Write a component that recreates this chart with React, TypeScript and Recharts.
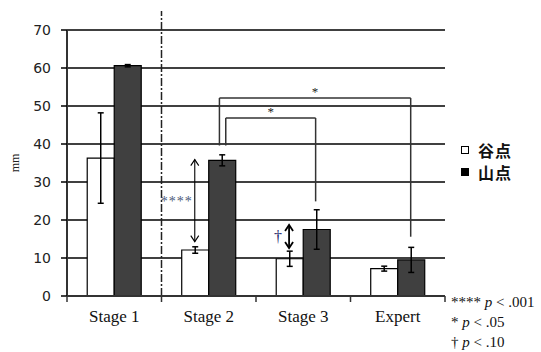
import React from 'react';
import {
  BarChart,
  Bar,
  XAxis,
  YAxis,
  CartesianGrid,
  ErrorBar,
  ReferenceLine
} from 'recharts';

const categories = ['Stage 1', 'Stage 2', 'Stage 3', 'Expert'];
const seriesNames = ['谷点', '山点'];
const valley = [36.3, 12.1, 9.8, 7.2];
const valleyErr = [11.9, 0.85, 2.0, 0.65];
const peak = [60.6, 35.7, 17.5, 9.5];
const peakErr = [0.3, 1.45, 5.2, 3.3];
const yTicks = [0, 10, 20, 30, 40, 50, 60, 70];

// significance brackets, x in category units on the hidden annotation axis
const brackets = [
  { from: 1.613, to: 3.637, top: 52.1, fromEnd: 39.6, toEnd: 15.6, mark: '*' },
  { from: 1.68, to: 2.631, top: 46.85, fromEnd: 39.6, toEnd: 24.9, mark: '*' }
];
const arrows = [
  { at: 1.352, top: 35.9, bottom: 14.3, mark: '****', color: '#4a5878', weight: 1.1, gap: 2, size: 14 },
  { at: 2.35, top: 18.7, bottom: 12.6, mark: '†', color: '#24246a', weight: 1.8, gap: 6, size: 16 }
];
const notes = [
  { mark: '****', p: '.001' },
  { mark: '*', p: '.05' },
  { mark: '†', p: '.10' }
];

const data = categories.map((name, i) => ({
  name,
  slot: i + 0.5,
  valley: valley[i],
  valleyErr: valleyErr[i],
  peak: peak[i],
  peakErr: peakErr[i]
}));

const W = 541;
const H = 352;

const CategoryTick = (props: any) => {
  const { x, y, payload, index } = props;
  const half = payload.offset || 47.25;
  return (
    <g>
      <line x1={x - half} x2={x - half} y1={y} y2={y + 6} stroke="#333" strokeWidth={1.5} />
      {index === categories.length - 1 && (
        <line x1={x + half} x2={x + half} y1={y} y2={y + 6} stroke="#333" strokeWidth={1.5} />
      )}
      <text
        x={x}
        y={y + 26}
        textAnchor="middle"
        fill="#111"
        style={{ fontFamily: 'Liberation Serif', fontSize: 17 }}
      >
        {payload.value}
      </text>
    </g>
  );
};

const DoubleArrow = (weight: number) => (p: any) => {
  const { x1, y1, y2 } = p;
  const top = Math.min(y1, y2);
  const bot = Math.max(y1, y2);
  const hw = 4;
  const hl = 6;
  return (
    <g stroke="#000" strokeWidth={weight} fill="none">
      <line x1={x1} y1={top} x2={x1} y2={bot} />
      <polyline points={`${x1 - hw},${top + hl} ${x1},${top} ${x1 + hw},${top + hl}`} />
      <polyline points={`${x1 - hw},${bot - hl} ${x1},${bot} ${x1 + hw},${bot - hl}`} />
    </g>
  );
};

export default function App() {
  return (
    <div style={{ position: 'absolute', left: 0, top: 0, width: W, height: H, background: '#fff' }}>
      <BarChart
        width={W}
        height={H}
        data={data}
        margin={{ top: 30, right: 96, bottom: 26, left: 5 }}
        barCategoryGap="21.4%"
        barGap={0}
      >
        <CartesianGrid vertical={false} stroke="#000" strokeWidth={1.5} />
        <XAxis
          dataKey="name"
          tick={<CategoryTick />}
          tickSize={0}
          tickMargin={0}
          interval={0}
          height={30}
          axisLine={{ stroke: '#333', strokeWidth: 2 }}
        />
        <XAxis
          xAxisId="ann"
          dataKey="slot"
          type="number"
          domain={[0, categories.length]}
          hide
          allowDataOverflow
        />
        <YAxis
          domain={[0, 70]}
          ticks={yTicks}
          interval={0}
          width={62}
          tickSize={6}
          tickMargin={10}
          axisLine={{ stroke: '#333', strokeWidth: 2 }}
          tickLine={{ stroke: '#000', strokeWidth: 1.5 }}
          tick={{ fontFamily: 'DejaVu Sans', fontSize: 14, fill: '#222' }}
          label={{
            content: ({ viewBox }: any) => {
              const cx = viewBox.x + 10;
              const cy = viewBox.y + viewBox.height / 2;
              return (
                <text
                  x={cx}
                  y={cy}
                  transform={`rotate(-90 ${cx} ${cy})`}
                  textAnchor="middle"
                  dominantBaseline="central"
                  fill="#222"
                  style={{ fontFamily: 'Liberation Serif', fontSize: 12 }}
                >
                  mm
                </text>
              );
            }
          }}
        />
        <Bar dataKey="valley" name={seriesNames[0]} fill="#fff" stroke="#000" strokeWidth={1.2} isAnimationActive={false}>
          <ErrorBar dataKey="valleyErr" direction="y" width={3} stroke="#000" strokeWidth={1.5} />
        </Bar>
        <Bar dataKey="peak" name={seriesNames[1]} fill="#404040" stroke="#000" strokeWidth={1.2} isAnimationActive={false}>
          <ErrorBar dataKey="peakErr" direction="y" width={3} stroke="#000" strokeWidth={1.5} />
        </Bar>

        <ReferenceLine
          xAxisId="ann"
          segment={[{ x: 1, y: 0 }, { x: 1, y: 75 }]}
          ifOverflow="visible"
          stroke="#222"
          strokeWidth={1.5}
          strokeDasharray="8 2 2 2"
        />

        {brackets.map((b, i) => (
          <ReferenceLine
            key={`bt-${i}`}
            xAxisId="ann"
            segment={[{ x: b.from, y: b.top }, { x: b.to, y: b.top }]}
            ifOverflow="visible"
            stroke="#333"
            strokeWidth={1.5}
            label={{
              value: b.mark,
              position: 'top',
              offset: 2,
              fill: '#222',
              style: { fontFamily: 'Liberation Serif', fontSize: 13, fill: '#222' }
            }}
          />
        ))}
        {brackets.map((b, i) => (
          <ReferenceLine
            key={`bl-${i}`}
            xAxisId="ann"
            segment={[{ x: b.from, y: b.top }, { x: b.from, y: b.fromEnd }]}
            ifOverflow="visible"
            stroke="#333"
            strokeWidth={1.5}
          />
        ))}
        {brackets.map((b, i) => (
          <ReferenceLine
            key={`br-${i}`}
            xAxisId="ann"
            segment={[{ x: b.to, y: b.top }, { x: b.to, y: b.toEnd }]}
            ifOverflow="visible"
            stroke="#333"
            strokeWidth={1.5}
          />
        ))}
        {arrows.map((a, i) => (
          <ReferenceLine
            key={`ar-${i}`}
            xAxisId="ann"
            segment={[{ x: a.at, y: a.top }, { x: a.at, y: a.bottom }]}
            ifOverflow="visible"
            shape={DoubleArrow(a.weight)}
            label={{
              value: a.mark,
              position: 'left',
              offset: a.gap,
              fill: a.color,
              style: { fontFamily: 'Liberation Serif', fontSize: a.size, letterSpacing: 1, fill: a.color }
            }}
          />
        ))}
      </BarChart>

      <div
        style={{
          position: 'absolute',
          left: 461,
          top: 139,
          fontFamily: '"Noto Sans CJK JP"',
          fontWeight: 700,
          fontSize: 16,
          lineHeight: '22px',
          color: '#111'
        }}
      >
        {seriesNames.map((s, i) => (
          <div key={s} style={{ display: 'flex', alignItems: 'center' }}>
            <span
              style={{
                display: 'inline-block',
                width: 8,
                height: 8,
                boxSizing: 'border-box',
                border: '1.5px solid #000',
                background: i === 0 ? '#fff' : '#000',
                marginRight: 9
              }}
            />
            <span style={{ letterSpacing: 1 }}>{s}</span>
          </div>
        ))}
      </div>

      <div
        style={{
          position: 'absolute',
          left: 451,
          top: 292,
          fontFamily: 'Liberation Serif',
          fontSize: 15,
          lineHeight: '20px',
          color: '#111',
          whiteSpace: 'nowrap'
        }}
      >
        {notes.map((n) => (
          <div key={n.p}>
            {n.mark} <i>p</i> &lt; {n.p}
          </div>
        ))}
      </div>
    </div>
  );
}
